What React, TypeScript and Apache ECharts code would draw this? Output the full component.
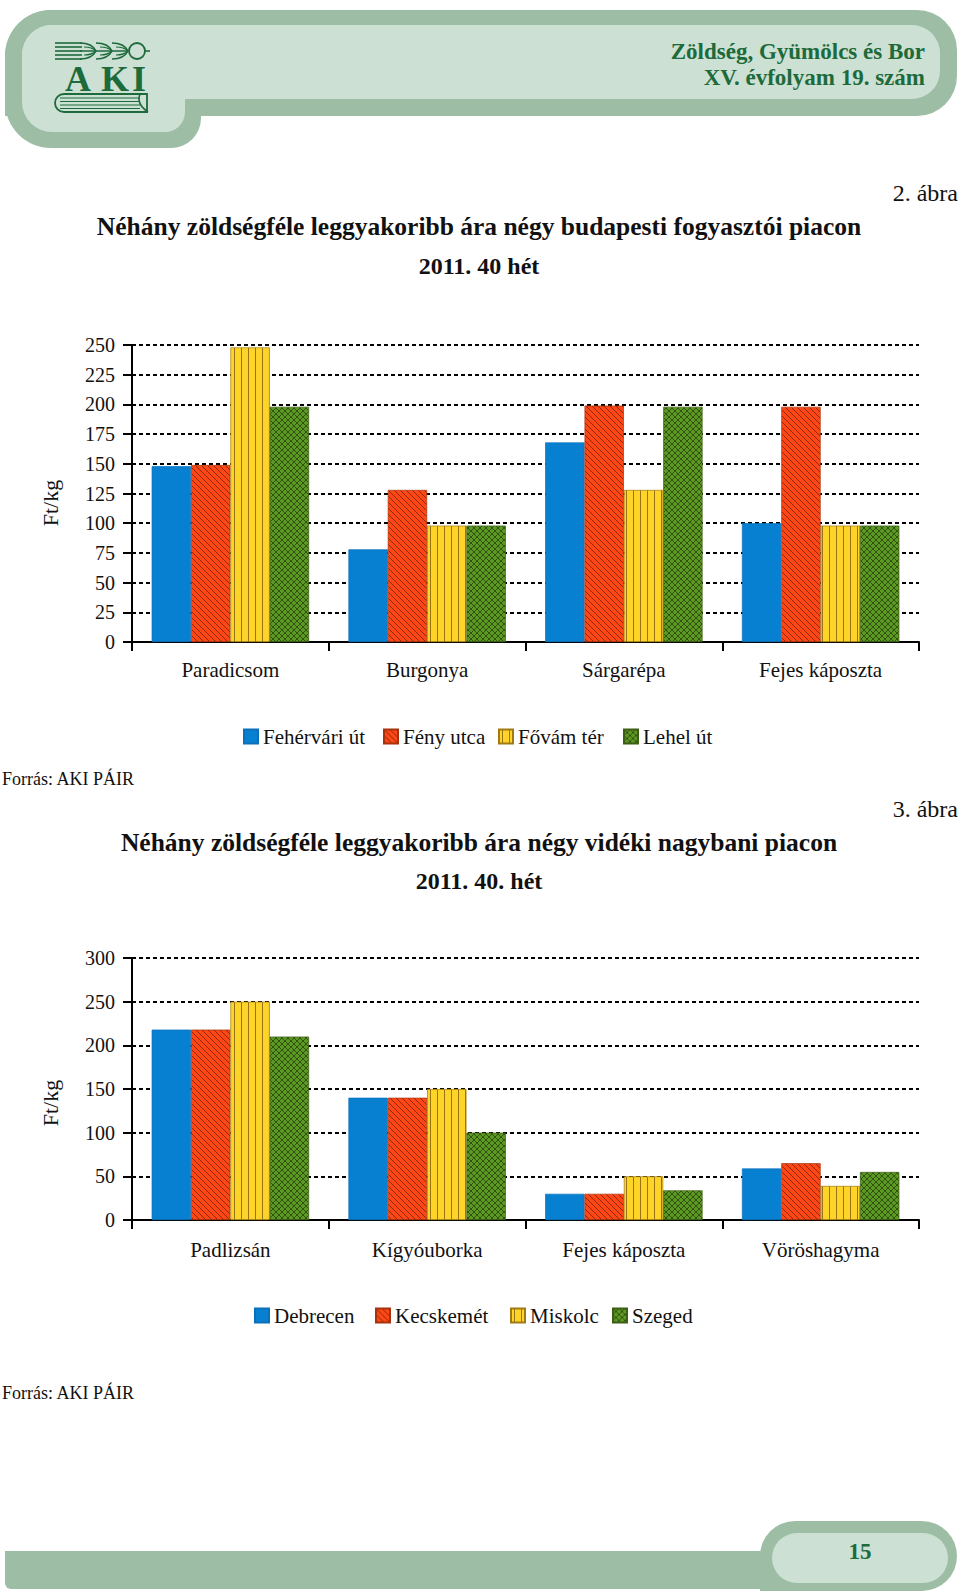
import React, { useEffect, useRef } from "react";
import * as echarts from "echarts";

// ---------- data ----------
const categories1 = ["Paradicsom", "Burgonya", "Sárgarépa", "Fejes káposzta"];
const names1 = ["Fehérvári út", "Fény utca", "Fővám tér", "Lehel út"];
const fehervariUt = [148, 78, 168, 100];
const fenyUtca = [149, 128, 199, 198];
const fovamTer = [248, 98, 128, 98];
const lehelUt = [198, 98, 198, 98];

const categories2 = ["Padlizsán", "Kígyóuborka", "Fejes káposzta", "Vöröshagyma"];
const names2 = ["Debrecen", "Kecskemét", "Miskolc", "Szeged"];
const debrecen = [218, 140, 30, 59];
const kecskemet = [218, 140, 30, 65];
const miskolc = [250, 150, 50, 39];
const szeged = [210, 100, 34, 55];

const axis1 = { min: 0, max: 250, interval: 25 };
const axis2 = { min: 0, max: 300, interval: 50 };

// ---------- styles ----------
const FONT = "'Liberation Serif', 'DejaVu Serif', serif";
const DARK = "#9dbea4";
const LIGHT = "#cce0d3";
const GREEN_TXT = "#1d6a3b";

function makePattern(bg: string, line: string, kind: "diag" | "vert" | "cross") {
  const size = kind === "vert" ? 7 : 6;
  const c = document.createElement("canvas");
  c.width = size;
  c.height = size;
  const ctx = c.getContext("2d")!;
  ctx.fillStyle = bg;
  ctx.fillRect(0, 0, size, size);
  ctx.strokeStyle = line;
  ctx.lineWidth = 1;
  ctx.beginPath();
  if (kind === "vert") {
    ctx.moveTo(3.5, 0);
    ctx.lineTo(3.5, size);
  } else {
    for (const k of [-size, 0, size]) {
      ctx.moveTo(k, 0);
      ctx.lineTo(k + size, size);
    }
    if (kind === "cross") {
      for (const k of [-size, 0, size]) {
        ctx.moveTo(k + size, 0);
        ctx.lineTo(k, size);
      }
    }
  }
  ctx.stroke();
  return { image: c.toDataURL(), repeat: "repeat", imageWidth: size, imageHeight: size };
}

export default function App() {
  const ref = useRef<HTMLDivElement>(null);
  useEffect(() => {
    if (!ref.current) return;
    const chart = echarts.init(ref.current, null, { renderer: "svg" });

    const blue = "#0880d2";
    const red = makePattern("#ff4716", "#8a2a0c", "diag");
    const yellow = makePattern("#ffd428", "#9a7414", "vert");
    const green = makePattern("#5b9a22", "#34520e", "cross");
    const fills = [blue, red, yellow, green];
    const borders = ["#0a70b8", "#a8320c", "#a07a14", "#3d5e14"];

    const mkSeries = (name: string, data: number[], idx: number, i: number) => ({
      type: "bar",
      name,
      data,
      xAxisIndex: idx,
      yAxisIndex: idx,
      barGap: "0%",
      barCategoryGap: "20%",
      itemStyle: { color: fills[i], borderColor: borders[i], borderWidth: 0.7 },
      emphasis: { disabled: true },
    });

    const series = [
      mkSeries(names1[0], fehervariUt, 0, 0),
      mkSeries(names1[1], fenyUtca, 0, 1),
      mkSeries(names1[2], fovamTer, 0, 2),
      mkSeries(names1[3], lehelUt, 0, 3),
      mkSeries(names2[0], debrecen, 1, 0),
      mkSeries(names2[1], kecskemet, 1, 1),
      mkSeries(names2[2], miskolc, 1, 2),
      mkSeries(names2[3], szeged, 1, 3),
    ];

    const legendLeft1 = [243, 383, 498, 623];
    const legendLeft2 = [254, 375, 510, 612];
    const legendItem = (name: string, left: number, top: number) => ({
      data: [name],
      left,
      top,
      padding: 0,
      itemWidth: 14,
      itemHeight: 14,
      icon: "rect",
      selectedMode: false,
      textStyle: { fontFamily: FONT, fontSize: 21, color: "#111" },
    });
    const legends = [
      ...names1.map((n, i) => legendItem(n, legendLeft1[i], 726)),
      ...names2.map((n, i) => legendItem(n, legendLeft2[i], 1305)),
    ];

    const xAxisCommon = {
      type: "category",
      axisLine: { show: true, lineStyle: { color: "#000", width: 2 } },
      axisTick: { show: true, length: 9, lineStyle: { color: "#000", width: 2 } },
      axisLabel: { fontFamily: FONT, fontSize: 21, color: "#111" },
    };
    const yAxisCommon = {
      type: "value",
      axisLine: { show: true, lineStyle: { color: "#000", width: 2 } },
      axisTick: { show: true, length: 9, lineStyle: { color: "#000", width: 2 } },
      axisLabel: { fontFamily: FONT, fontSize: 20, color: "#111", margin: 17 },
      splitLine: { show: true, lineStyle: { color: "#000", width: 2, type: [4, 3] } },
    };

    const text = (t: string, x: number, y: number, o: any = {}) => ({
      type: "text",
      x,
      y,
      rotation: o.rotation || 0,
      style: {
        text: t,
        font: `${o.bold ? "bold " : ""}${o.size || 20}px ${FONT}`,
        fill: o.color || "#111",
        align: o.align || "center",
        verticalAlign: "middle",
      },
    });

    const graphic: any[] = [
      // header outer
      { type: "rect", shape: { x: 5, y: 10, width: 952, height: 106, r: [46, 40, 40, 0] }, style: { fill: DARK } },
      { type: "rect", shape: { x: 5, y: 10, width: 196, height: 138, r: [46, 0, 30, 46] }, style: { fill: DARK } },
      // header inner
      { type: "rect", shape: { x: 22, y: 25, width: 918, height: 74, r: [30, 28, 28, 0] }, style: { fill: LIGHT } },
      { type: "rect", shape: { x: 22, y: 25, width: 163, height: 107, r: [30, 0, 20, 30] }, style: { fill: LIGHT } },
      // logo wheat
      ...[43, 47, 51, 55, 59].map((y) => ({
        type: "line",
        shape: { x1: 55, y1: y, x2: 82, y2: y },
        style: { stroke: GREEN_TXT, lineWidth: 1.6 },
      })),
      { type: "line", shape: { x1: 80, y1: 51, x2: 128, y2: 51 }, style: { stroke: GREEN_TXT, lineWidth: 1.6 } },
      ...[0, 1, 2].flatMap((i) => {
        const x0 = 80 + i * 16;
        return [
          { type: "bezierCurve", shape: { x1: x0, y1: 43, x2: x0 + 16, y2: 51, cpx1: x0 + 12, cpy1: 43 }, style: { stroke: GREEN_TXT, lineWidth: 1.6, fill: null } },
          { type: "bezierCurve", shape: { x1: x0, y1: 59, x2: x0 + 16, y2: 51, cpx1: x0 + 12, cpy1: 59 }, style: { stroke: GREEN_TXT, lineWidth: 1.6, fill: null } },
          { type: "bezierCurve", shape: { x1: x0 + 4, y1: 47, x2: x0 + 16, y2: 51, cpx1: x0 + 12, cpy1: 47 }, style: { stroke: GREEN_TXT, lineWidth: 1.2, fill: null } },
          { type: "bezierCurve", shape: { x1: x0 + 4, y1: 55, x2: x0 + 16, y2: 51, cpx1: x0 + 12, cpy1: 55 }, style: { stroke: GREEN_TXT, lineWidth: 1.2, fill: null } },
        ];
      }),
      { type: "ellipse", shape: { cx: 137, cy: 51, rx: 8, ry: 8 }, style: { stroke: GREEN_TXT, lineWidth: 1.8, fill: null } },
      { type: "line", shape: { x1: 145, y1: 51, x2: 150, y2: 51 }, style: { stroke: GREEN_TXT, lineWidth: 1.6 } },
      // AKI
      text("A", 78, 79, { bold: true, size: 36, color: GREEN_TXT }),
      text("K", 115, 79, { bold: true, size: 36, color: GREEN_TXT }),
      text("I", 139, 79, { bold: true, size: 36, color: GREEN_TXT }),
      // book
      { type: "rect", shape: { x: 55, y: 94, width: 92, height: 18, r: [9, 0, 0, 9] }, style: { stroke: GREEN_TXT, lineWidth: 1.8, fill: null } },
      ...[98, 101.5, 105, 108.5].map((y) => ({
        type: "line",
        shape: { x1: 60, y1: y, x2: 140, y2: y },
        style: { stroke: GREEN_TXT, lineWidth: 1.2 },
      })),
      { type: "bezierCurve", shape: { x1: 140, y1: 94, x2: 148, y2: 112, cpx1: 136, cpy1: 104 }, style: { stroke: GREEN_TXT, lineWidth: 1.6, fill: null } },
      // header texts
      text("Zöldség, Gyümölcs és Bor", 925, 51, { bold: true, size: 23, color: GREEN_TXT, align: "right" }),
      text("XV. évfolyam 19. szám", 925, 77, { bold: true, size: 23, color: GREEN_TXT, align: "right" }),

      // figure 2
      text("2. ábra", 958, 193, { size: 24, align: "right" }),
      text("Néhány zöldségféle leggyakoribb ára négy budapesti fogyasztói piacon", 479, 226, { bold: true, size: 25.5 }),
      text("2011. 40 hét", 479, 266, { bold: true, size: 24 }),
      text("Ft/kg", 50, 503, { size: 22, rotation: Math.PI / 2 }),
      text("Forrás: AKI PÁIR", 2, 779, { size: 18, align: "left" }),

      // figure 3
      text("3. ábra", 958, 809, { size: 24, align: "right" }),
      text("Néhány zöldségféle leggyakoribb ára négy vidéki nagybani piacon", 479, 842, { bold: true, size: 25.5 }),
      text("2011. 40. hét", 479, 881, { bold: true, size: 24 }),
      text("Ft/kg", 50, 1103, { size: 22, rotation: Math.PI / 2 }),
      text("Forrás: AKI PÁIR", 2, 1393, { size: 18, align: "left" }),

      // footer
      { type: "rect", shape: { x: 5, y: 1551, width: 800, height: 38, r: [0, 0, 0, 6] }, style: { fill: DARK } },
      { type: "rect", shape: { x: 760, y: 1521, width: 197, height: 70, r: [35, 35, 35, 0] }, style: { fill: DARK } },
      { type: "rect", shape: { x: 772, y: 1533, width: 176, height: 50, r: 25 }, style: { fill: LIGHT } },
      text("15", 860, 1551, { bold: true, size: 23, color: GREEN_TXT }),
    ];

    chart.setOption({
      animation: false,
      backgroundColor: "#fff",
      grid: [
        { left: 132, top: 345, width: 787, height: 297 },
        { left: 132, top: 958, width: 787, height: 262 },
      ],
      xAxis: [
        { ...xAxisCommon, gridIndex: 0, data: categories1, axisLabel: { ...xAxisCommon.axisLabel, margin: 17 } },
        { ...xAxisCommon, gridIndex: 1, data: categories2, axisLabel: { ...xAxisCommon.axisLabel, margin: 19 } },
      ],
      yAxis: [
        { ...yAxisCommon, gridIndex: 0, ...axis1 },
        { ...yAxisCommon, gridIndex: 1, ...axis2 },
      ],
      legend: legends,
      series,
      graphic: { elements: graphic },
    });
    return () => chart.dispose();
  }, []);
  return (
    <div
      ref={ref}
      style={{ position: "absolute", left: 0, top: 0, width: 960, height: 1594, background: "#fff" }}
    />
  );
}
